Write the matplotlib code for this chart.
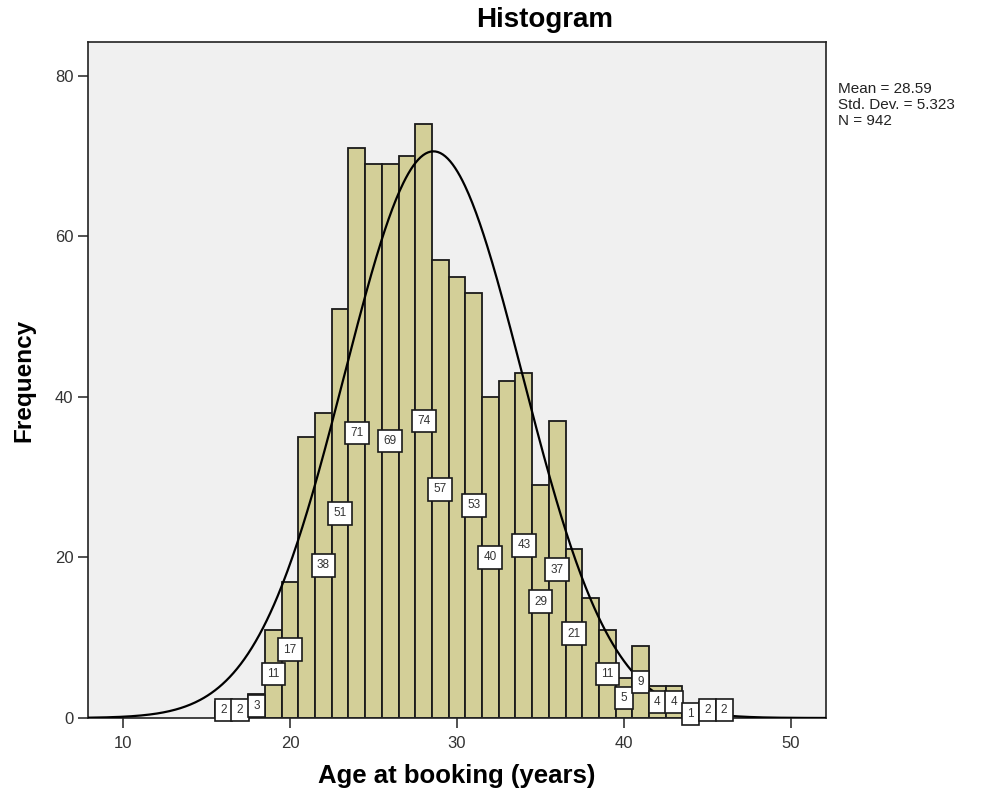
import numpy as np
import matplotlib
matplotlib.use("Agg")
import matplotlib.pyplot as plt

plt.rcParams['font.family'] = ['Liberation Sans', 'DejaVu Sans']

ages = [16, 17, 18, 19, 20, 21, 22, 23, 24, 25, 26, 27, 28, 29, 30, 31,
        32, 33, 34, 35, 36, 37, 38, 39, 40, 41, 42, 43, 44, 45, 46]
counts = [2, 2, 3, 11, 17, 35, 38, 51, 71, 69, 69, 70, 74, 57, 55, 53,
          40, 42, 43, 29, 37, 21, 15, 11, 5, 9, 4, 4, 1, 2, 2]
labeled = [16, 17, 18, 19, 20, 22, 23, 24, 26, 28, 29, 31, 32, 34, 35,
           36, 37, 39, 40, 41, 42, 43, 44, 45, 46]
mean = 28.59
sd = 5.323
n = 942
xticks = [10, 20, 30, 40, 50]
yticks = [0, 20, 40, 60, 80]

fig = plt.figure(figsize=(9.91, 7.96), dpi=100)
ax = fig.add_axes([0.0888, 0.098, 0.7447, 0.849])
ax.set_facecolor('#F0F0F0')

ax.bar(ages, counts, width=1.0, color='#D3CF98', edgecolor='#1a1a1a',
       linewidth=1.3, zorder=2)

xs = np.linspace(7.9, 52.1, 600)
ys = n * 1.0 / (sd * np.sqrt(2 * np.pi)) * np.exp(-0.5 * ((xs - mean) / sd) ** 2)
ax.plot(xs, ys, color='black', linewidth=1.6, zorder=3)

for a, c in zip(ages, counts):
    if a in labeled:
        ax.text(a, c / 2.0, str(c), ha='center', va='center', fontsize=8.5,
                color='#333333', zorder=4, clip_on=False,
                bbox=dict(boxstyle='square,pad=0.45', facecolor='white',
                          edgecolor='#1a1a1a', linewidth=1.2))

ax.set_xlim(7.9, 52.1)
ax.set_ylim(0, 84.2)
ax.set_xticks(xticks)
ax.set_yticks(yticks)
ax.tick_params(axis='both', direction='out', length=7, width=1.2,
               labelsize=12, labelcolor='#333333', color='#333333')
ax.tick_params(axis='x', pad=6)
for s in ax.spines.values():
    s.set_linewidth(1.2)
    s.set_color('#222222')

fig.text(545 / 991, 1 - 20 / 796, 'Histogram', fontsize=20, fontweight='bold',
         ha='center', va='center')
ax.set_xlabel('Age at booking (years)', fontsize=18.5, fontweight='bold', labelpad=9)
ax.set_ylabel('Frequency', fontsize=17.5, fontweight='bold', labelpad=14)

fig.text(0.846, 0.897, 'Mean = %.2f\nStd. Dev. = %.3f\nN = %d' % (mean, sd, n),
         fontsize=11, va='top', ha='left', linespacing=1.2, color='#222222')

fig.savefig('out.png', dpi=100)
